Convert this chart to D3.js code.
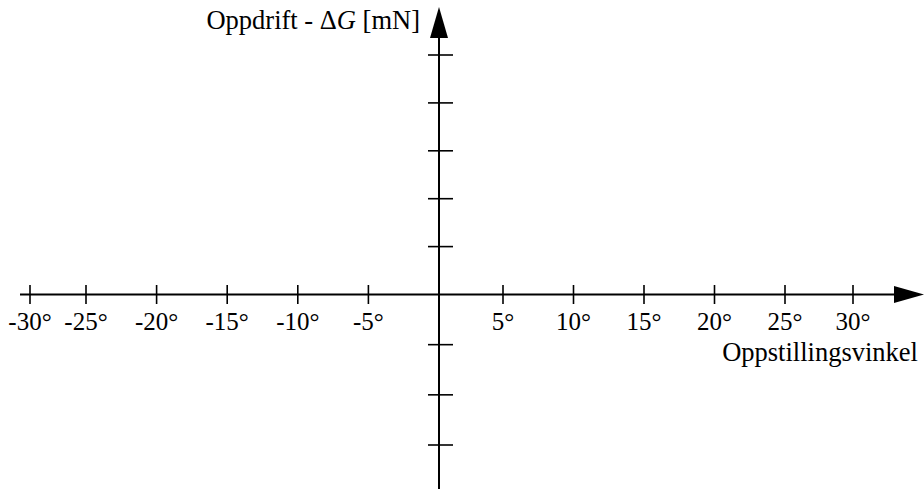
<!DOCTYPE html>
<html>
<head>
<meta charset="utf-8">
<script src="https://cdn.jsdelivr.net/npm/d3@7"></script>
<style>
  html, body { margin: 0; padding: 0; background: #fff; }
  svg { display: block; }
  text { font-family: "Liberation Serif", "Times New Roman", serif; fill: #000; }
</style>
</head>
<body>
<svg id="chart" width="924" height="489"></svg>
<script>
// Angle ticks along the horizontal axis (degrees)
const angleTicks = [-30, -25, -20, -15, -10, -5, 5, 10, 15, 20, 25, 30];
const angleLabels = ["-30°", "-25°", "-20°", "-15°", "-10°", "-5°", "5°", "10°", "15°", "20°", "25°", "30°"];
// Unlabelled lift ticks along the vertical axis
const liftTicks = [-3, -2, -1, 1, 2, 3, 4, 5];

const xTitle = "Oppstillingsvinkel";
const yTitleParts = ["Oppdrift - Δ", "G", " [mN]"];

const W = 924, H = 489;
const svg = d3.select("#chart");
const tickFont = 25;
const titleFont = 26.5;

// Angle scale (piecewise, following the hand-spaced ticks of the sketch)
const x = d3.scaleLinear()
  .domain([-30, -25, 0, 5, 25, 30])
  .range([30, 86, 439, 503, 785, 853]);

// Lift scale, origin on the horizontal axis
const y = d3.scaleLinear()
  .domain([-3, 0, 5])
  .range([445, 294.5, 55]);

const x0 = x(0), y0 = y(0);

// Horizontal axis line with arrowhead
svg.append("line")
  .attr("x1", 20).attr("x2", 896)
  .attr("y1", y0).attr("y2", y0)
  .attr("stroke", "#000").attr("stroke-width", 2);
svg.append("path")
  .attr("d", `M${W},${y0} L${894},${y0 - 8.5} L${894},${y0 + 8.5} Z`)
  .attr("fill", "#000");

// Vertical axis line with arrowhead
svg.append("line")
  .attr("x1", x0).attr("x2", x0)
  .attr("y1", 36).attr("y2", H)
  .attr("stroke", "#000").attr("stroke-width", 2);
svg.append("path")
  .attr("d", `M${x0},7 L${x0 - 9},38 L${x0 + 9},38 Z`)
  .attr("fill", "#000");

// Horizontal axis ticks and labels
const xt = svg.append("g").selectAll("g")
  .data(angleTicks)
  .join("g")
  .attr("transform", d => `translate(${x(d)},0)`);
xt.append("line")
  .attr("y1", y0 - 9.5).attr("y2", y0 + 9.5)
  .attr("stroke", "#000").attr("stroke-width", 1.6);
xt.append("text")
  .attr("y", 330)
  .attr("text-anchor", "middle")
  .attr("font-size", tickFont)
  .text((d, i) => angleLabels[i]);

// Vertical axis ticks (no labels)
svg.append("g").selectAll("line")
  .data(liftTicks)
  .join("line")
  .attr("x1", x0 - 11).attr("x2", x0 + 14)
  .attr("y1", d => y(d)).attr("y2", d => y(d))
  .attr("stroke", "#000").attr("stroke-width", 1.6);

// Axis titles
svg.append("text")
  .attr("x", 918).attr("y", 361)
  .attr("text-anchor", "end")
  .attr("font-size", titleFont)
  .text(xTitle);

const yt = svg.append("text")
  .attr("x", 420).attr("y", 29)
  .attr("text-anchor", "end")
  .attr("font-size", titleFont);
yt.append("tspan").text(yTitleParts[0]);
yt.append("tspan").attr("font-style", "italic").text(yTitleParts[1]);
yt.append("tspan").text(yTitleParts[2]);
</script>
</body>
</html>
